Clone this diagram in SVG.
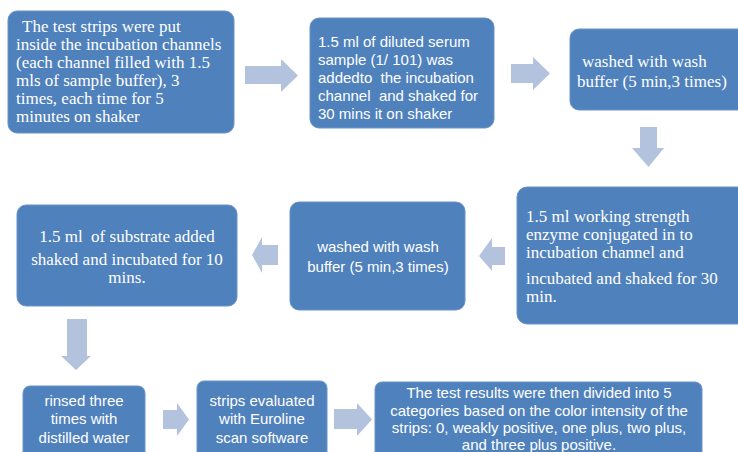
<svg xmlns="http://www.w3.org/2000/svg" width="738" height="452" viewBox="0 0 738 452">
<style>
.box{fill:#4F81BD;stroke:#6b93c6;stroke-width:1}
.arr{fill:#B3C3DD}
.serif{font-family:"Liberation Serif","Times New Roman",serif;font-size:17px;fill:#ffffff}
.sans{font-family:"Liberation Sans",Arial,sans-serif;font-size:15px;fill:#ffffff}
.mid{text-anchor:middle}
</style>
<rect width="738" height="452" fill="#ffffff"/>
<g id="connectors">
<polygon class="arr" points="245,66 281,66 281,59 298,75.5 281,92 281,84 245,84"/>
<polygon class="arr" points="511,64 533,64 533,57 550,73.5 533,90 533,83 511,83"/>
<polygon class="arr" points="640,127 657,127 657,148 664,148 648.5,167 632,148 640,148"/>
<polygon class="arr" points="505,247 492,247 492,238 479,256 492,271 492,265 505,265"/>
<polygon class="arr" points="278,245 262,245 262,237 252,255 262,273 262,265 278,265"/>
<polygon class="arr" points="67,319 87,319 87,356 91,356 76,370 61,356 67,356"/>
<polygon class="arr" points="163,410 177,410 177,403 189,419.5 177,436 177,429 163,429"/>
<polygon class="arr" points="334,409 357,409 357,403 372,419.5 357,436 357,429 334,429"/>
</g>
<g id="n1">
<rect class="box" x="8" y="11" width="226" height="122" rx="9"/>
<text class="serif"><tspan x="22" y="32">The test strips were put</tspan><tspan x="16" y="50">inside the incubation channels</tspan><tspan x="16" y="68">(each channel filled with 1.5</tspan><tspan x="16" y="86">mls of sample buffer), 3</tspan><tspan x="16" y="104">times, each time for 5</tspan><tspan x="16" y="122">minutes on shaker</tspan></text>
</g>
<g id="n2">
<rect class="box" x="310" y="18" width="184" height="110" rx="9"/>
<text class="sans"><tspan x="318" y="47">1.5 ml of diluted serum</tspan><tspan x="318" y="65">sample (1/ 101) was</tspan><tspan x="318" y="83" xml:space="preserve">addedto  the incubation</tspan><tspan x="318" y="101" xml:space="preserve">channel  and shaked for</tspan><tspan x="318" y="119">30 mins it on shaker</tspan></text>
</g>
<g id="n3">
<rect class="box" x="570" y="29" width="178" height="81" rx="9"/>
<text class="serif"><tspan x="582" y="67">washed with wash</tspan><tspan x="577" y="87">buffer (5 min,3 times)</tspan></text>
</g>
<g id="n4">
<rect class="box" x="517" y="187" width="231" height="137" rx="10"/>
<text class="serif"><tspan x="526" y="222">1.5 ml working strength</tspan><tspan x="526" y="240">enzyme conjugated in to</tspan><tspan x="526" y="258">incubation channel and</tspan><tspan x="526" y="284">incubated and shaked for 30</tspan><tspan x="526" y="302">min.</tspan></text>
</g>
<g id="n5">
<rect class="box" x="290" y="202" width="175" height="108" rx="9"/>
<text class="sans mid"><tspan x="378" y="252">washed with wash</tspan><tspan x="378" y="272">buffer (5 min,3 times)</tspan></text>
</g>
<g id="n6">
<rect class="box" x="17" y="205" width="220" height="101" rx="9"/>
<text class="serif mid"><tspan x="127" y="242" xml:space="preserve">1.5 ml  of substrate added</tspan><tspan x="127" y="265">shaked and incubated for 10</tspan><tspan x="127" y="283">mins.</tspan></text>
</g>
<g id="n7">
<rect class="box" x="23" y="386" width="122" height="80" rx="7"/>
<text class="sans mid"><tspan x="84" y="406">rinsed three</tspan><tspan x="84" y="424">times with</tspan><tspan x="84" y="443">distilled water</tspan></text>
</g>
<g id="n8">
<rect class="box" x="197" y="381" width="130" height="85" rx="7"/>
<text class="sans mid"><tspan x="262" y="406">strips evaluated</tspan><tspan x="262" y="424">with Euroline</tspan><tspan x="262" y="443">scan software</tspan></text>
</g>
<g id="n9">
<rect class="box" x="375" y="382" width="327" height="84" rx="7"/>
<text class="sans mid"><tspan x="539" y="398">The test results were then divided into 5</tspan><tspan x="539" y="416">categories based on the color intensity of the</tspan><tspan x="539" y="433">strips: 0, weakly positive, one plus, two plus,</tspan><tspan x="539" y="450">and three plus positive.</tspan></text>
</g>
</svg>
